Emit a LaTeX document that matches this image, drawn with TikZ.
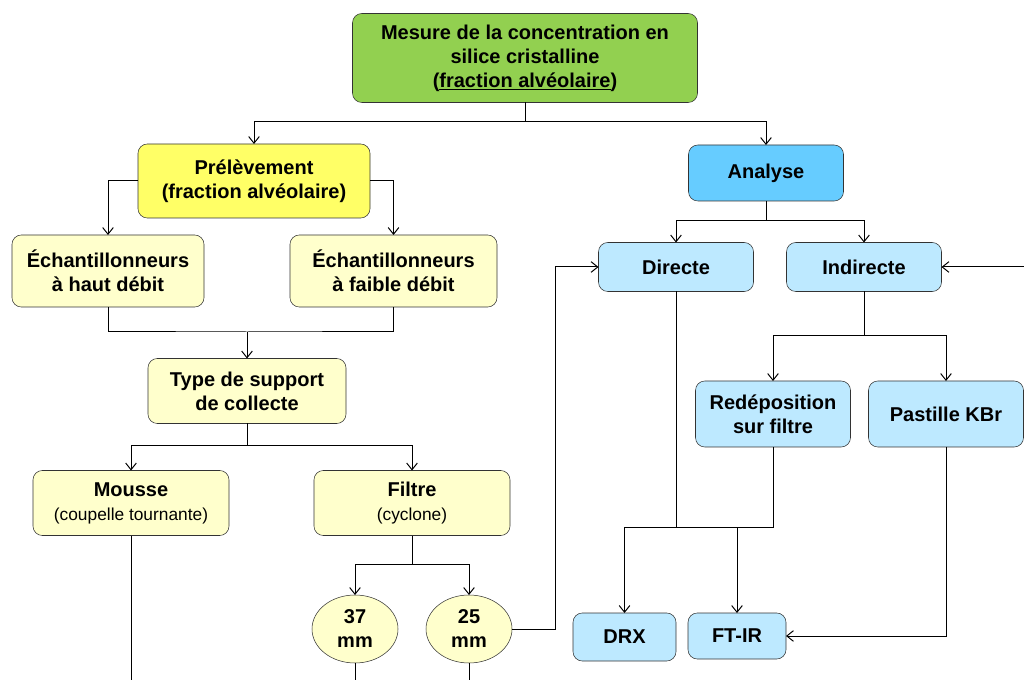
\documentclass[tikz,border=0pt]{standalone}
\usepackage{fontspec}
\setmainfont{Liberation Sans}
\usetikzlibrary{arrows.meta, shapes.geometric, positioning}
\definecolor{goalgreen}{RGB}{146,208,80}
\definecolor{prelyellow}{RGB}{255,255,102}
\definecolor{paleyellow}{RGB}{255,255,204}
\definecolor{anablue}{RGB}{102,204,255}
\definecolor{paleblue}{RGB}{189,233,255}
\newcommand{\sublabel}[1]{{\fontsize{13}{18}\selectfont\mdseries #1}}
\tikzset{
	box/.style = {rectangle, rounded corners = 7pt, draw = black!80, text centered, align = center, font = \fontsize{15}{18}\selectfont\bfseries},
	goal/.style = {box, fill = goalgreen, minimum width = 258.75pt, minimum height = 66.75pt},
	prel/.style = {box, fill = prelyellow, minimum width = 174pt, minimum height = 55.5pt},
	samp/.style = {box, fill = paleyellow, minimum height = 54pt},
	supp/.style = {box, fill = paleyellow, minimum width = 147pt, minimum height = 48.75pt},
	disc/.style = {ellipse, draw = black!80, fill = paleyellow, minimum width = 64.5pt, minimum height = 51pt, align = center, font = \fontsize{15}{18}\selectfont\bfseries},
	anal/.style = {box, fill = anablue, minimum width = 116.25pt, minimum height = 42pt},
	meth/.style = {box, fill = paleblue, minimum width = 116.25pt},
	arrow/.style = {-{Straight Barb[length = 5pt, width = 8pt]}, draw = black, line width = 0.75pt},
	link/.style = {draw = black, line width = 0.75pt}
}

\begin{document}
\begin{tikzpicture}[x = 0.75pt, y = -0.75pt, inner sep = 0pt, outer sep = 0pt]
	\useasboundingbox (0,0) rectangle (1024,680);

	%% sampling side
	\node (mesure) [goal] at (525,58) {Mesure de la concentration en\\silice cristalline\\(\underline{fraction alvéolaire})};
	\node (prelev) [prel] at (254,181) {Prélèvement\\(fraction alvéolaire)};
	\node (echhaut) [samp, minimum width = 144pt] at (108,271) {Échantillonneurs\\à haut débit};
	\node (echfaible) [samp, minimum width = 155.25pt] at (393.5,271) {Échantillonneurs\\à faible débit};
	\node (support) [supp, minimum width = 148.5pt] at (247,391) {Type de support\\de collecte};
	\node (mousse) [supp] at (131,503) {Mousse\\\sublabel{(coupelle tournante)}};
	\node (filtre) [supp] at (412,503) {Filtre\\\sublabel{(cyclone)}};
	\node (d37) [disc] at (355,629) {37\\mm};
	\node (d25) [disc] at (469,629) {25\\mm};

	%% analysis side
	\node (analyse) [anal] at (766,173) {Analyse};
	\node (directe) [meth, minimum height = 36.75pt] at (676,267) {Directe};
	\node (indirecte) [meth, minimum height = 36.75pt] at (864,267) {Indirecte};
	\node (redepo) [meth, minimum height = 49.5pt] at (773,414) {Redéposition\\sur filtre};
	\node (kbr) [meth, minimum height = 49.5pt] at (946,414) {Pastille KBr};
	\node (drx) [meth, minimum width = 77.25pt, minimum height = 36pt] at (624.5,637) {DRX};
	\node (ftir) [meth, minimum width = 73.5pt, minimum height = 34.5pt] at (737,636) {FT-IR};

	% junctions and free ends
	\coordinate (jmes) at (525,122);
	\coordinate (jech) at (247,332);
	\coordinate (jsup) at (247,446);
	\coordinate (jfil) at (412,564);
	\coordinate (jana) at (766,221);
	\coordinate (jind) at (864,336);
	\coordinate (jdir) at (676,527);
	\coordinate (kright) at (1024,267);
	\coordinate (emousse) at (131,680);
	\coordinate (e37) at (355,680);
	\coordinate (e25) at (469,680);

	%%% arrows %%%
	\draw [link] (mesure.south) -- (jmes);
	\draw [arrow] (jmes) -| (prelev.north);
	\draw [arrow] (jmes) -| (analyse.north);
	\draw [arrow] (prelev.west) -| (echhaut.north);
	\draw [arrow] (prelev.east) -| (echfaible.north);
	\draw [link] (echhaut.south) |- (jech) -| (echfaible.south);
	\draw [arrow] (jech) -- (support.north);
	\draw [link] (support.south) -- (jsup);
	\draw [arrow] (jsup) -| (mousse.north);
	\draw [arrow] (jsup) -| (filtre.north);
	\draw [link] (filtre.south) -- (jfil);
	\draw [arrow] (jfil) -| (d37.north);
	\draw [arrow] (jfil) -| (d25.north);
	\draw [link] (mousse.south) -- (emousse);
	\draw [link] (d37.south) -- (e37);
	\draw [link] (d25.south) -- (e25);
	\draw [arrow] (d25.east) -- ++(43,0) |- (directe.west);

	\draw [link] (analyse.south) -- (jana);
	\draw [arrow] (jana) -| (directe.north);
	\draw [arrow] (jana) -| (indirecte.north);
	\draw [arrow] (kright) -- (indirecte.east);
	\draw [link] (indirecte.south) -- (jind);
	\draw [arrow] (jind) -| (redepo.north);
	\draw [arrow] (jind) -| (kbr.north);
	\draw [link] (directe.south) -- (jdir);
	\draw [link] (redepo.south) |- (jdir);
	\draw [arrow] (jdir) -| (drx.north);
	\draw [arrow] (jdir -| ftir.north) -- (ftir.north);
	\draw [arrow] (kbr.south) |- (ftir.east);
\end{tikzpicture}
\end{document}
